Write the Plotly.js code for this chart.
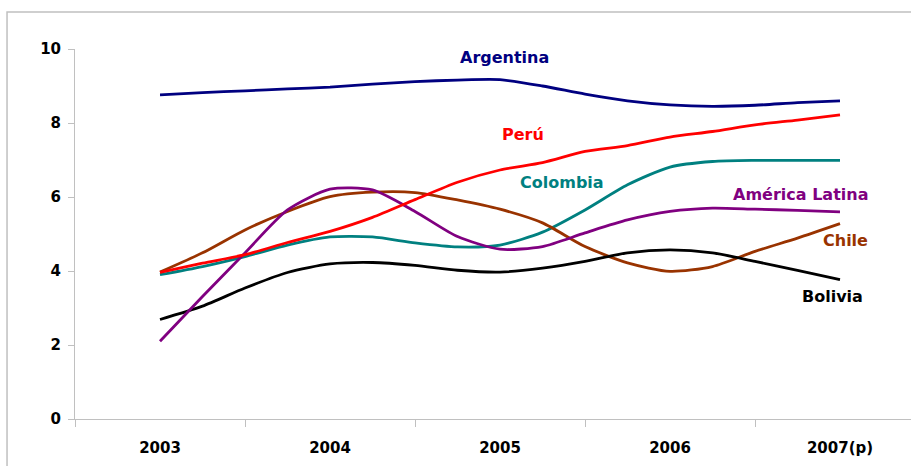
<!DOCTYPE html>
<html>
<head>
<meta charset="utf-8">
<script src="https://cdn.plot.ly/plotly-3.0.1.min.js"></script>
<style>
  html, body { margin: 0; padding: 0; background: #fff; }
  #chart { width: 911px; height: 466px; }
</style>
</head>
<body>
<div id="chart"></div>
<script>
// Quarterly growth series, 2003 Q1 through 2007 (projected)
const yearLabels = ['2003', '2004', '2005', '2006', '2007(p)'];

const argentina = [8.76, 8.82, 8.87, 8.92, 8.97, 9.05, 9.12, 9.16, 9.17, 9.00, 8.78, 8.60, 8.49, 8.45, 8.48, 8.55, 8.60];
const peru      = [3.96, 4.21, 4.44, 4.77, 5.07, 5.45, 5.93, 6.40, 6.73, 6.93, 7.23, 7.39, 7.62, 7.77, 7.95, 8.08, 8.22];
const colombia  = [3.90, 4.12, 4.39, 4.70, 4.92, 4.92, 4.76, 4.65, 4.70, 5.05, 5.65, 6.33, 6.81, 6.96, 6.99, 6.99, 6.99];
const amLatina  = [2.10, 3.31, 4.49, 5.65, 6.21, 6.19, 5.61, 4.93, 4.59, 4.66, 5.03, 5.38, 5.61, 5.70, 5.67, 5.64, 5.60];
const chile     = [3.97, 4.49, 5.11, 5.61, 6.01, 6.13, 6.12, 5.92, 5.67, 5.30, 4.66, 4.22, 3.99, 4.12, 4.53, 4.89, 5.28];
const bolivia   = [2.69, 3.05, 3.54, 3.96, 4.19, 4.23, 4.15, 4.02, 3.97, 4.08, 4.26, 4.49, 4.57, 4.49, 4.26, 4.02, 3.77];

const seriesNames = ['Argentina', 'Perú', 'Colombia', 'América Latina', 'Chile', 'Bolivia'];

// one x unit per year, quarters at quarter steps
const xq = argentina.map((_, i) => i / 4);
const yearPos = yearLabels.map((_, i) => i);

const FONT = 'DejaVu Sans, Arial, sans-serif';
const AXIS_GREY = '#c0c0c0';

function line(name, ys, color) {
  return {
    type: 'scatter', mode: 'lines', name: name,
    x: xq, y: ys,
    line: { color: color, width: 2.8, shape: 'spline', smoothing: 0.7 },
    hoverinfo: 'skip'
  };
}

const traces = [
  line(seriesNames[2], colombia, '#008080'),
  line(seriesNames[4], chile, '#993300'),
  line(seriesNames[5], bolivia, '#000000'),
  line(seriesNames[3], amLatina, '#800080'),
  line(seriesNames[0], argentina, '#000080'),
  line(seriesNames[1], peru, '#ff0000'),
  // carrier trace for the boundary tick axis
  { type: 'scatter', mode: 'none', x: [0], y: [0], xaxis: 'x2', yaxis: 'y', hoverinfo: 'skip', showlegend: false }
];

const xRange = [-0.5, 4.5 - 14 / 170];

function label(text, x, y, color) {
  return {
    text: text, x: x, y: y, xref: 'x', yref: 'y', showarrow: false,
    font: { family: FONT, size: 16, weight: 700, color: color },
    xanchor: 'center', yanchor: 'middle'
  };
}

const layout = {
  width: 911, height: 466,
  margin: { l: 75, r: 0, t: 49, b: 47 },
  paper_bgcolor: '#ffffff', plot_bgcolor: '#ffffff',
  showlegend: false,
  hovermode: false,
  xaxis: {
    type: 'linear', range: xRange,
    tickvals: yearPos, ticktext: yearLabels,
    ticks: '', showgrid: false, zeroline: false,
    showline: true, linecolor: AXIS_GREY, linewidth: 1,
    ticklabelstandoff: 15,
    tickfont: { family: FONT, size: 15, weight: 700, color: '#000' }
  },
  xaxis2: {
    type: 'linear', range: xRange, overlaying: 'x', anchor: 'y', side: 'bottom',
    tickvals: [-0.5, 0.5, 1.5, 2.5, 3.5], showticklabels: false,
    ticks: 'outside', ticklen: 7, tickwidth: 1, tickcolor: AXIS_GREY,
    showgrid: false, zeroline: false, showline: false
  },
  yaxis: {
    range: [0, 10], dtick: 2, tick0: 0,
    ticks: 'outside', ticklen: 6, tickwidth: 1, tickcolor: AXIS_GREY,
    showgrid: false, zeroline: false,
    showline: true, linecolor: AXIS_GREY, linewidth: 1,
    ticklabelstandoff: 4,
    tickfont: { family: FONT, size: 15, weight: 700, color: '#000' }
  },
  shapes: [{
    type: 'rect', xref: 'paper', yref: 'paper',
    x0: -0.0813, x1: 1.05, y0: -0.2, y1: 1.0999,
    line: { color: AXIS_GREY, width: 1.5 }, fillcolor: 'rgba(0,0,0,0)', layer: 'below'
  }],
  annotations: [
    label(seriesNames[0], 2.024, 9.76, '#000080'),
    label(seriesNames[1], 2.135, 7.68, '#ff0000'),
    label(seriesNames[2], 2.365, 6.38, '#008080'),
    label(seriesNames[3], 3.765, 6.06, '#800080'),
    label(seriesNames[4], 4.035, 4.82, '#993300'),
    label(seriesNames[5], 3.953, 3.31, '#000000')
  ]
};

Plotly.newPlot('chart', traces, layout, { displayModeBar: false, staticPlot: true });
</script>
</body>
</html>
